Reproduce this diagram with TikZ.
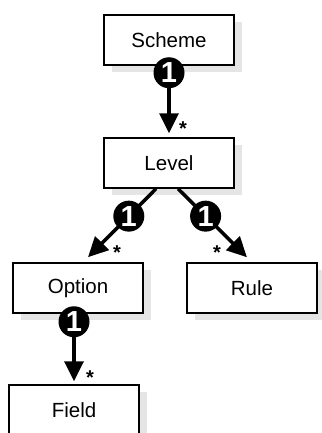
\documentclass[tikz,border=0pt]{standalone}
\usepackage{fontspec}
\setmainfont{Liberation Sans}
\usetikzlibrary{arrows.meta,calc,shadows}
\begin{document}
\begin{tikzpicture}[x=1pt,y=-1pt,
  entity/.style={draw=black, line width=1.5pt, fill=white,
    minimum width=130pt, minimum height=50pt, inner sep=0pt,
    font=\fontsize{20.5}{24}\selectfont,
    drop shadow={shadow xshift=8pt, shadow yshift=-7pt, fill=black!10, opacity=1}},
  rel/.style={line width=3.5pt, -{Triangle[length=20pt,width=19pt]}},
  one/.style={circle, fill=black, inner sep=0pt, minimum size=31pt,
    text=white, font=\fontsize{29}{29}\bfseries\selectfont},
  many/.style={inner sep=0pt, font=\fontsize{20}{20}\bfseries\selectfont}
]
\useasboundingbox (0,0) rectangle (321,433);

% entities
\node[entity] (Scheme) at (169,40)  {Scheme};
\node[entity] (Level)  at (169,163) {Level};
\node[entity] (Option) at (78,288)  {Option};
\node[entity] (Rule)   at (252,288) {Rule};
\node[entity] (Field)  at (74,410)  {Field};

% Scheme -> Level
\draw[rel, shorten >=4pt] (Scheme) -- (Level);
\node[one] (oneSL) at ($(Scheme.south)+(0,7)$) {1};
\node[many] (manySL) at ($(Level.north)+(14,-9)$) {*};

% Level -> Option
\coordinate (lvlL) at ($(Level.south)+(-13,0)$);
\coordinate (optT) at ($(Option.north)+(10,-5)$);
\draw[rel] (lvlL) -- (optT) node[one, pos=0.4] (oneLO) {1};
\node[many] (manyLO) at ($(Option.north)+(39,-10)$) {*};

% Level -> Rule
\coordinate (lvlR) at ($(Level.south)+(9,0)$);
\coordinate (ruleT) at ($(Rule.north)+(-5,-5)$);
\draw[rel] (lvlR) -- (ruleT) node[one, pos=0.4] (oneLR) {1};
\node[many] (manyLR) at ($(Rule.north)+(-35,-10)$) {*};

% Option -> Field
\coordinate (optB) at (Field.north |- Option.south);
\draw[rel, shorten >=3pt] (optB) -- (Field.north);
\node[one] (oneOF) at ($(optB)+(0,8)$) {1};
\node[many] (manyOF) at ($(Field.north)+(16,-7)$) {*};
\end{tikzpicture}
\end{document}
